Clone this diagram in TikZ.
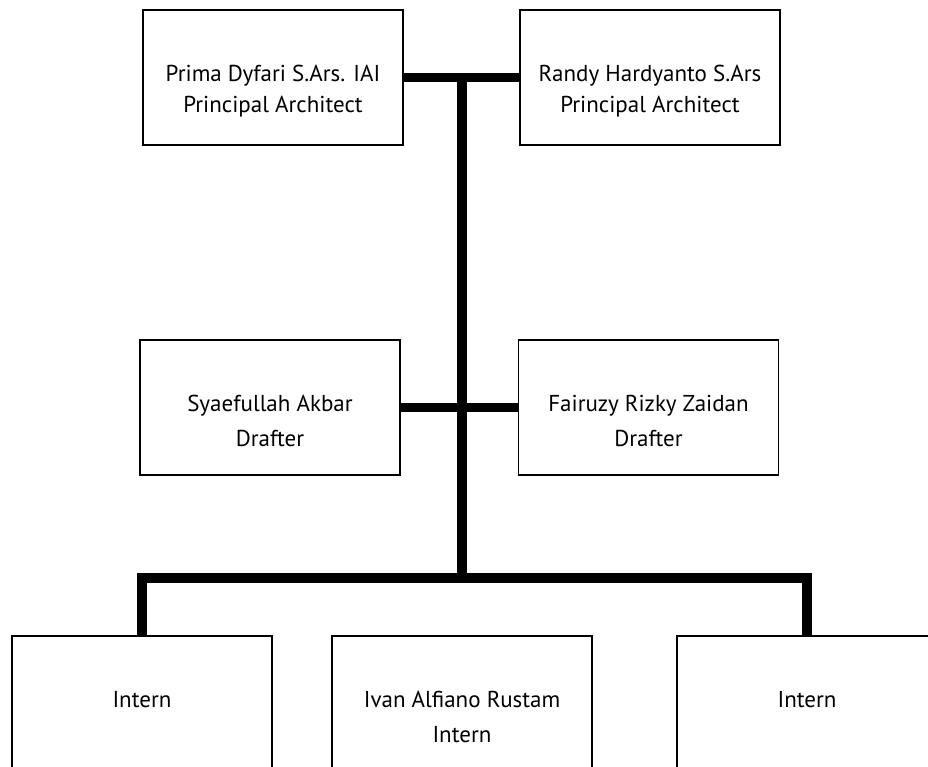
\documentclass[tikz,border=0pt]{standalone}
\usepackage{fontspec}
\setmainfont{PT Sans}
\usetikzlibrary{positioning}

\tikzset{
    box/.style={draw, line width=1.5pt, minimum width=260pt, minimum height=135pt, inner sep=0pt},
    lowbox/.style={box, minimum height=170pt},
    boxtext/.style={align=center, inner sep=0pt, font=\fontsize{23}{35}\selectfont},
    toptext/.style={boxtext, font=\fontsize{23}{31}\selectfont},
    bar/.style={line width=9.5pt}
}

\begin{document}
\begin{tikzpicture}[x=1pt, y=1pt, node distance=56pt]
        \path[use as bounding box, clip] (0,0) rectangle (928,766);

        % Kotak jabatan
        \node [box] (prima) at (273,688.5) {};
        \node [box] (randy) at (650,688.5) {};
        \node [box] (syaef) at (270,358.5) {};
        \node [box] (fairuzy) at (648.5,358.5) {};
        \node [lowbox] (internA) at (142,45) {};
        \node [lowbox] (ivan) at (462,45) {};
        \node [lowbox] (internC) at (807,45) {};

        % Teks di dalam kotak
        \node [toptext, below=of prima.north] (primaT) {Prima Dyfari S.Ars. IAI\\Principal Architect};
        \node [toptext, below=of randy.north] (randyT) {Randy Hardyanto S.Ars\\Principal Architect};
        \node [boxtext, below=of syaef.north] (syaefT) {Syaefullah Akbar\\Drafter};
        \node [boxtext, below=of fairuzy.north] (fairuzyT) {Fairuzy Rizky Zaidan\\Drafter};
        \node [boxtext, below=of internA.north] (internAT) {Intern};
        \node [boxtext, below=of ivan.north] (ivanT) {Ivan Alfiano Rustam\\Intern};
        \node [boxtext, below=of internC.north] (internCT) {Intern};

        % Garis penghubung
        \coordinate (top) at (462,688.5);
        \coordinate (fork) at (462,188);
        \draw[bar] (prima.east) -- (randy.west);
        \draw[bar] (syaef.east) -- (fairuzy.west);
        \draw[bar] (top) -- (fork);
        \draw[bar] (internA.north) -- (internA.north |- fork) -- (internC.north |- fork) -- (internC.north);
    \end{tikzpicture}
\end{document}
